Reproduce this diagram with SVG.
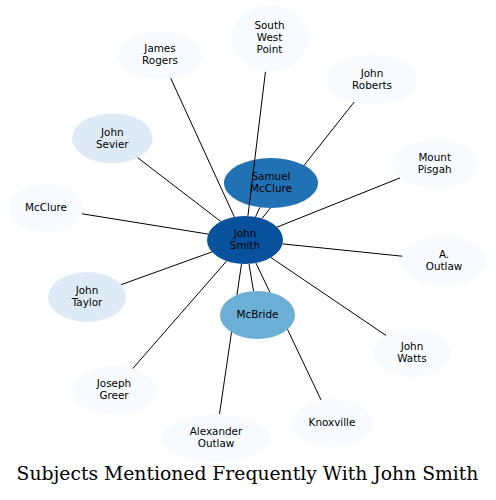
<svg xmlns="http://www.w3.org/2000/svg" width="496" height="500" viewBox="0 0 496 500">
<style>
.n text{font-family:"DejaVu Sans",sans-serif;font-size:10.4px;fill:#000;text-anchor:middle}
.l{fill:#f7fbff}
.m{fill:#deebf7}
#edges path{stroke:#000;stroke-width:1;fill:none}
.t{font-family:"DejaVu Serif",serif;font-size:18.75px;fill:#000;text-anchor:middle}
</style>
<rect width="496" height="500" fill="#fff"/>
<g id="nodes">
<g id="n-john-smith" class="n"><ellipse cx="245" cy="240" rx="38" ry="24" fill="#08519c"/><text x="245" y="237.3">John</text><text x="245" y="249.3">Smith</text></g>
<g id="n-samuel-mcclure" class="n"><ellipse cx="271" cy="183" rx="47" ry="25" fill="#2171b5"/><text x="271" y="180.3">Samuel</text><text x="271" y="192.3">McClure</text></g>
<g id="n-mcbride" class="n"><ellipse cx="257.5" cy="315" rx="37.5" ry="24" fill="#6baed6"/><text x="257.5" y="318.3">McBride</text></g>
<g id="n-james-rogers" class="n"><ellipse class="l" cx="160" cy="55" rx="42" ry="24"/><text x="160" y="52.3">James</text><text x="160" y="64.3">Rogers</text></g>
<g id="n-south-west-point" class="n"><ellipse class="l" cx="269.5" cy="38" rx="38.5" ry="33.5"/><text x="269.5" y="29.3">South</text><text x="269.5" y="41.3">West</text><text x="269.5" y="53.3">Point</text></g>
<g id="n-john-roberts" class="n"><ellipse class="l" cx="372" cy="79.5" rx="45.5" ry="24.5"/><text x="372" y="76.8">John</text><text x="372" y="88.8">Roberts</text></g>
<g id="n-mount-pisgah" class="n"><ellipse class="l" cx="434.7" cy="164" rx="42" ry="24.7"/><text x="434.7" y="161.3">Mount</text><text x="434.7" y="173.3">Pisgah</text></g>
<g id="n-a-outlaw" class="n"><ellipse class="l" cx="444" cy="260.5" rx="42.5" ry="24.8"/><text x="444" y="257.8">A.</text><text x="444" y="269.8">Outlaw</text></g>
<g id="n-john-watts" class="n"><ellipse class="l" cx="412" cy="353" rx="38" ry="24"/><text x="412" y="350.3">John</text><text x="412" y="362.3">Watts</text></g>
<g id="n-knoxville" class="n"><ellipse class="l" cx="332" cy="423" rx="40" ry="24"/><text x="332" y="426.3">Knoxville</text></g>
<g id="n-alexander-outlaw" class="n"><ellipse class="l" cx="216" cy="438" rx="54" ry="24"/><text x="216" y="435.3">Alexander</text><text x="216" y="447.3">Outlaw</text></g>
<g id="n-joseph-greer" class="n"><ellipse class="l" cx="114" cy="390" rx="42" ry="24"/><text x="114" y="387.3">Joseph</text><text x="114" y="399.3">Greer</text></g>
<g id="n-john-taylor" class="n"><ellipse class="m" cx="87" cy="297" rx="39" ry="25"/><text x="87" y="294.3">John</text><text x="87" y="306.3">Taylor</text></g>
<g id="n-mcclure" class="n"><ellipse class="l" cx="46" cy="208" rx="37" ry="24.7"/><text x="46" y="211.3">McClure</text></g>
<g id="n-john-sevier" class="n"><ellipse class="m" cx="112.3" cy="138.3" rx="40.3" ry="25"/><text x="112.3" y="135.6">John</text><text x="112.3" y="147.6">Sevier</text></g>
</g>
<g id="edges">
<path d="M234.4,217 L170.7,78.2"/>
<path d="M247.9,216.1 L265.45,71.8"/>
<path d="M262,218.5 L270.3,208 M304.1,165.3 L354.2,102"/>
<path d="M255.5,216.9 L259.9,207.3"/>
<path d="M277.1,227.1 L400,177.9"/>
<path d="M282.5,243.9 L402.2,256.2"/>
<path d="M270.9,257.5 L386.1,335.5"/>
<path d="M255.9,263 L269.9,292.3 M287.5,329.4 L321,399.9"/>
<path d="M241.5,263.9 L236.96,294.9 M231.5,332.3 L219.5,414"/>
<path d="M249,263.9 L253.5,291.1"/>
<path d="M226.6,261 L132.8,368.5"/>
<path d="M212,251.9 L121,284.7"/>
<path d="M208.2,234.1 L82,213.8"/>
<path d="M220.8,221.5 L137.7,157.7"/>
</g>
<text class="t" x="247.5" y="480">Subjects Mentioned Frequently With John Smith</text>
</svg>
